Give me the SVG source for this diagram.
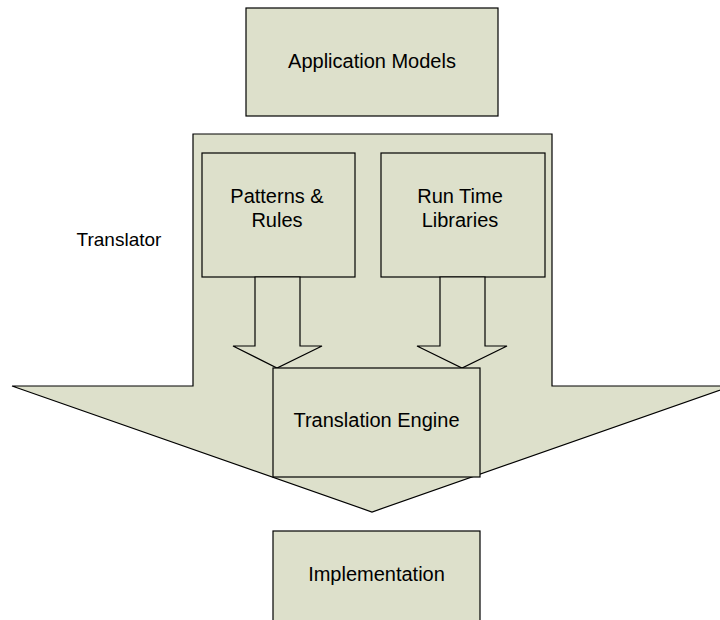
<svg xmlns="http://www.w3.org/2000/svg" width="720" height="620" viewBox="0 0 720 620">
<style>
.s{fill:#DDE0CB;stroke:#000;stroke-width:1.2}
.t{font-family:"Liberation Sans",Arial,sans-serif;font-size:20px;fill:#000;text-anchor:middle}
</style>
<rect width="720" height="620" fill="#fff"/>
<g id="translator">
<polygon class="s" points="12,386 193,386 193,134 552,134 552,386 732,386 372,512"/>
<text x="119" y="246" class="t" style="font-size:19px">Translator</text>
</g>
<g id="application-models">
<rect class="s" x="246" y="8" width="252" height="108"/>
<text x="372" y="68" class="t">Application Models</text>
</g>
<g id="patterns-rules">
<rect class="s" x="202" y="153" width="153" height="124"/>
<text x="277" y="203" class="t">Patterns &amp;</text>
<text x="277" y="227" class="t">Rules</text>
</g>
<g id="run-time-libraries">
<rect class="s" x="381" y="153" width="164" height="124"/>
<text x="460" y="203" class="t">Run Time</text>
<text x="460" y="227" class="t">Libraries</text>
</g>
<g id="connectors">
<polygon class="s" points="255,277 300,277 300,346 322,346 277,368 233,346 255,346"/>
<polygon class="s" points="440,277 485,277 485,346 507,346 462,368 417,346 440,346"/>
</g>
<g id="translation-engine">
<rect class="s" x="273" y="368" width="207" height="109"/>
<text x="376.5" y="427" class="t">Translation Engine</text>
</g>
<g id="implementation">
<rect class="s" x="273" y="531" width="207" height="100"/>
<text x="376.5" y="581" class="t">Implementation</text>
</g>
</svg>
